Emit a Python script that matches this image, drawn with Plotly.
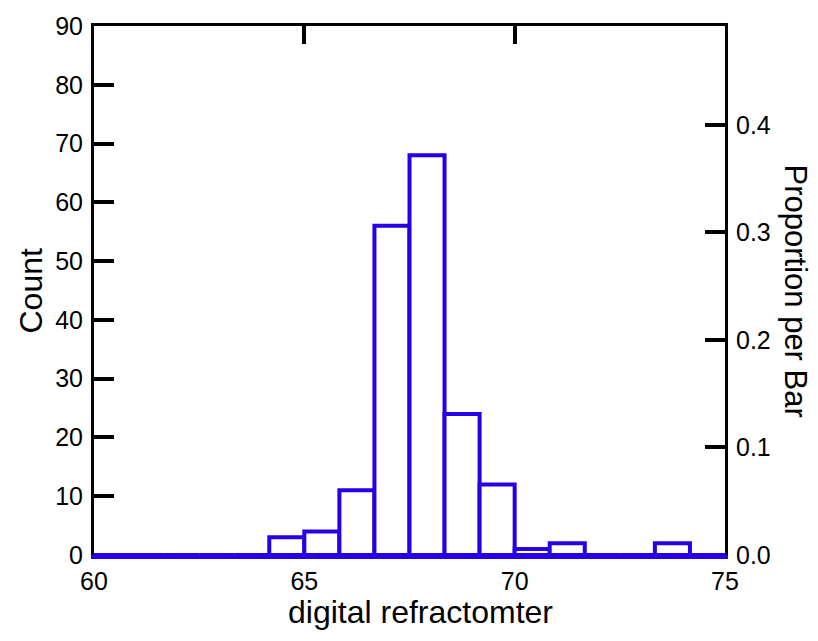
import plotly.graph_objects as go

# histogram bins: 18 bins of width 5/6 from 60 to 75
bin_start = 60.0
bin_width = 5.0 / 6.0
counts = [0, 0, 0, 0, 0, 3, 4, 11, 56, 68, 24, 12, 1, 2, 0, 0, 2, 0]
x_ticks = [60, 65, 70, 75]
y_ticks = [0, 10, 20, 30, 40, 50, 60, 70, 80, 90]
prop_ticks = [0.0, 0.1, 0.2, 0.3, 0.4]

centers = [bin_start + (i + 0.5) * bin_width for i in range(len(counts))]
total = sum(counts)
props = [c / total for c in counts]

BLUE = "rgb(38,0,230)"
FONT = "Liberation Sans, Arial, sans-serif"

fig = go.Figure()
fig.add_trace(go.Bar(
    x=centers, y=counts, width=bin_width,
    marker=dict(color="white", line=dict(color=BLUE, width=4)),
    hoverinfo="skip", showlegend=False,
))
fig.add_trace(go.Bar(
    x=centers, y=props, width=bin_width, xaxis="x2", yaxis="y2",
    marker=dict(color="rgba(0,0,0,0)", line=dict(width=0)),
    hoverinfo="skip", showlegend=False,
))

tick_font = dict(family=FONT, size=25, color="black")

fig.update_layout(
    width=818, height=641,
    margin=dict(l=94, r=93, t=16, b=86),
    paper_bgcolor="white", plot_bgcolor="white",
    barmode="overlay",
    xaxis=dict(range=[60, 75], tickvals=x_ticks, ticks="", showgrid=False,
               zeroline=False, showline=True, linecolor=BLUE, linewidth=4,
               tickfont=tick_font, ticklabelstandoff=1),
    xaxis2=dict(range=[60, 75], overlaying="x", side="top", tickvals=[65, 70],
                ticks="inside", ticklen=18, tickwidth=4, tickcolor="black",
                showticklabels=False, showgrid=False, zeroline=False,
                showline=True, linecolor="black", linewidth=3),
    yaxis=dict(range=[0, 90], tickvals=y_ticks, ticks="inside", ticklen=20,
               tickwidth=4, tickcolor="black", showgrid=False, zeroline=False,
               showline=True, linecolor="black", linewidth=3,
               tickfont=tick_font, ticklabelstandoff=3),
    yaxis2=dict(range=[0, 90 / total], overlaying="y", side="right",
                tickvals=prop_ticks, tickformat=".1f", ticks="inside",
                ticklen=20, tickwidth=4, tickcolor="black", showgrid=False,
                zeroline=False, showline=True, linecolor="black", linewidth=3,
                tickfont=tick_font, ticklabelstandoff=3),
    annotations=[
        dict(text="digital refractomter", xref="paper", yref="paper",
             x=(420 - 94) / 631, y=0, xanchor="center", yanchor="middle",
             yshift=-57, showarrow=False,
             font=dict(family=FONT, size=32, color="black")),
        dict(text="Count", xref="paper", yref="paper", x=0, y=0.5,
             xanchor="center", yanchor="middle", xshift=-64, textangle=-90,
             showarrow=False, font=dict(family=FONT, size=32, color="black")),
        dict(text="Proportion per Bar", xref="paper", yref="paper", x=1, y=0.5,
             xanchor="center", yanchor="middle", xshift=70, textangle=90,
             showarrow=False, font=dict(family=FONT, size=31, color="black")),
    ],
)

fig.write_html("out.html")
